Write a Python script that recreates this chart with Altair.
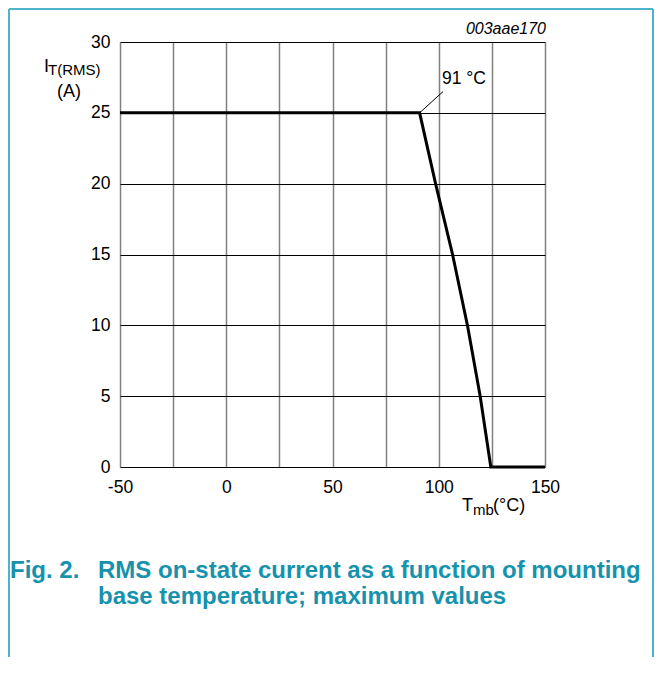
import altair as alt
import pandas as pd

# Data
temps = [-50, 91, 98.5, 106.5, 113.5, 119.5, 124.5, 150]
current = [25, 25, 20, 15, 10, 5, 0, 0]

x_grid = [-50, -25, 0, 25, 50, 75, 100, 125, 150]
y_ticks = [0, 5, 10, 15, 20, 25, 30]

leader_x = [91, 102]
leader_y = [25, 26.5]

FONT = "Liberation Sans"
CAPTION_COLOR = "#1792ad"
BORDER_COLOR = "#4cb3cb"

df = pd.DataFrame({"T": temps, "I": current})
lead = pd.DataFrame({"x": [leader_x[0]], "x2": [leader_x[1]], "y": [leader_y[0]], "y2": [leader_y[1]]})

xscale = alt.Scale(domain=[-50, 150], nice=False, zero=False)
yscale = alt.Scale(domain=[0, 30], nice=False)

xaxis = alt.Axis(values=x_grid, title=None, domain=False, ticks=False,
                 grid=True, gridColor="#808080", gridWidth=1.5,
                 labelExpr="datum.value % 50 == 0 ? toString(datum.value) : ''",
                 labelFlush=False, labelOverlap=False, labelPadding=11,
                 labelFontSize=17.5, labelFont=FONT, labelColor="black")
yaxis = alt.Axis(values=y_ticks, title=None, domain=False, ticks=False,
                 grid=True, gridColor="black", gridWidth=1,
                 labelPadding=10, labelFontSize=17.5, labelFont=FONT, labelColor="black")

line = alt.Chart(df).mark_line(color="black", strokeWidth=3).encode(
    x=alt.X("T:Q", scale=xscale, axis=xaxis),
    y=alt.Y("I:Q", scale=yscale, axis=yaxis),
)

leader = alt.Chart(lead).mark_rule(color="black", strokeWidth=1).encode(
    x=alt.X("x:Q", scale=xscale), x2="x2:Q",
    y=alt.Y("y:Q", scale=yscale), y2="y2:Q",
)

def txt(text, x, y, size, align="left", bold=False, italic=False, color="black"):
    kw = dict(text=text, align=align, baseline="alphabetic", fontSize=size,
              font=FONT, color=color)
    if bold:
        kw["fontWeight"] = "bold"
    if italic:
        kw["fontStyle"] = "italic"
    return alt.Chart(df).transform_filter("datum.T == -50").mark_text(**kw).encode(
        x=alt.value(x), y=alt.value(y))

texts = [
    txt("I", -76, 30, 18),
    txt("T(RMS)", -72, 33, 15),
    txt("(A)", -51, 55, 18, align="center"),
    txt("T", 342, 469, 18),
    txt("mb", 353, 473, 15),
    txt("(°C)", 373, 469, 18),
    txt("91 °C", 322, 42, 17.5),
    txt("003aae170", 426, -8, 16, align="right", italic=True),
    txt("Fig. 2.", -110, 536, 24, bold=True, color=CAPTION_COLOR),
    txt("RMS on-state current as a function of mounting", -22, 536, 24, bold=True, color=CAPTION_COLOR),
    txt("base temperature; maximum values", -22, 562, 24, bold=True, color=CAPTION_COLOR),
]

def border(x, x2, y, y2):
    return alt.Chart(df).transform_filter("datum.T == -50").mark_rule(
        color=BORDER_COLOR, strokeWidth=2).encode(
        x=alt.value(x), x2=alt.value(x2), y=alt.value(y), y2=alt.value(y2))

borders = [
    border(-111, 533, -33, -33),
    border(-111, -111, -33, 620),
    border(533, 533, -33, 620),
]

chart = alt.layer(line, leader, *texts, *borders).properties(
    width=425, height=425,
    autosize=alt.AutoSizeParams(type="none"),
    padding={"left": 112, "top": 34, "right": 109, "bottom": 190},
    background="white",
).configure_view(stroke=None)

chart.save("out.html", embed_options={"renderer": "svg", "actions": False})
